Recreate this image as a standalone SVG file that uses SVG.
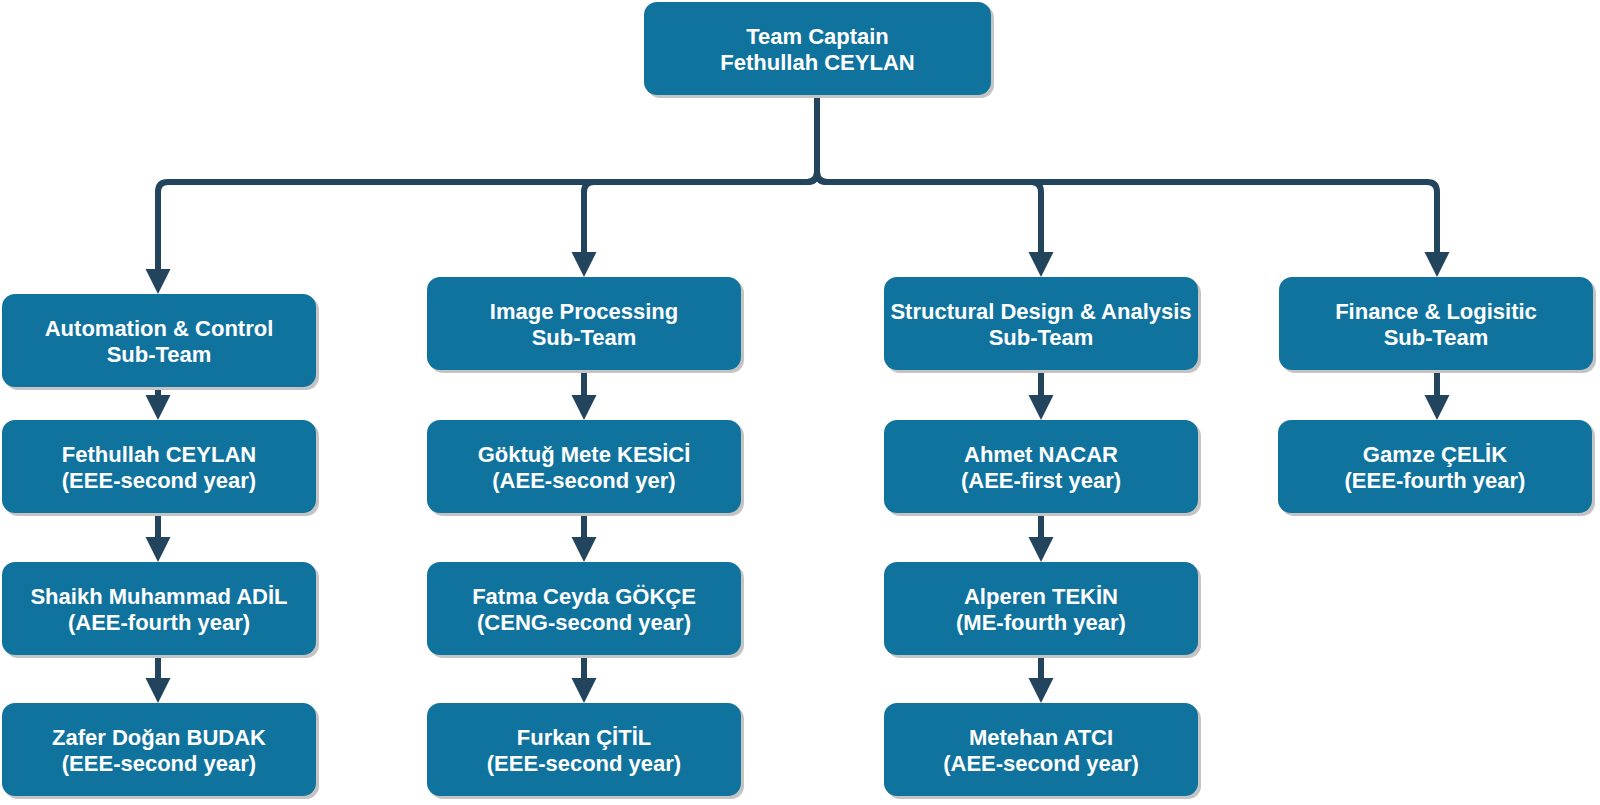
<svg xmlns="http://www.w3.org/2000/svg" width="1600" height="805" viewBox="0 0 1600 805">
<style>
.sh{fill:#c4c4c4}
.bx{fill:#10739e}
.t{font-family:"Liberation Sans",Arial,sans-serif;font-weight:bold;font-size:22px;fill:#ffffff;text-anchor:middle}
.e{fill:none;stroke:#23445d;stroke-width:6}
</style>
<defs>
<marker id="ah" markerUnits="userSpaceOnUse" markerWidth="26" markerHeight="26" refX="0" refY="12.5" orient="auto" overflow="visible">
<path d="M0,0 L25,12.5 L0,25 Z" fill="#23445d"/>
</marker>
</defs>
<rect width="1600" height="805" fill="#ffffff"/>
<g id="connectors">
<path class="e" marker-end="url(#ah)" d="M817,95 V172 Q817,182 807,182 H168 Q158,182 158,192 V269"/>
<path class="e" marker-end="url(#ah)" d="M817,95 V172 Q817,182 807,182 H594 Q584,182 584,192 V252"/>
<path class="e" marker-end="url(#ah)" d="M817,95 V172 Q817,182 827,182 H1031 Q1041,182 1041,192 V252"/>
<path class="e" marker-end="url(#ah)" d="M817,95 V172 Q817,182 827,182 H1427 Q1437,182 1437,192 V252"/>
<path class="e" marker-end="url(#ah)" d="M158,387 V395"/>
<path class="e" marker-end="url(#ah)" d="M158,513 V537"/>
<path class="e" marker-end="url(#ah)" d="M158,655 V678"/>
<path class="e" marker-end="url(#ah)" d="M584,370 V395"/>
<path class="e" marker-end="url(#ah)" d="M584,513 V537"/>
<path class="e" marker-end="url(#ah)" d="M584,655 V678"/>
<path class="e" marker-end="url(#ah)" d="M1041,370 V395"/>
<path class="e" marker-end="url(#ah)" d="M1041,513 V537"/>
<path class="e" marker-end="url(#ah)" d="M1041,655 V678"/>
<path class="e" marker-end="url(#ah)" d="M1437,370 V395"/>
</g>
<g id="captain"><rect class="sh" x="647" y="5" width="347" height="93" rx="13"/><rect class="bx" x="644" y="2" width="347" height="93" rx="13"/><text class="t" x="817.5" y="44">Team Captain</text><text class="t" x="817.5" y="70">Fethullah CEYLAN</text></g>

<g id="automation"><rect class="sh" x="5" y="297" width="314" height="93" rx="13"/><rect class="bx" x="2" y="294" width="314" height="93" rx="13"/><text class="t" x="159" y="336">Automation &amp; Control</text><text class="t" x="159" y="362">Sub-Team</text></g>
<g id="image"><rect class="sh" x="430" y="280" width="314" height="93" rx="13"/><rect class="bx" x="427" y="277" width="314" height="93" rx="13"/><text class="t" x="584" y="319">Image Processing</text><text class="t" x="584" y="345">Sub-Team</text></g>
<g id="structural"><rect class="sh" x="887" y="280" width="314" height="93" rx="13"/><rect class="bx" x="884" y="277" width="314" height="93" rx="13"/><text class="t" x="1041" y="319">Structural Design &amp; Analysis</text><text class="t" x="1041" y="345">Sub-Team</text></g>
<g id="finance"><rect class="sh" x="1282" y="280" width="314" height="93" rx="13"/><rect class="bx" x="1279" y="277" width="314" height="93" rx="13"/><text class="t" x="1436" y="319">Finance &amp; Logisitic</text><text class="t" x="1436" y="345">Sub-Team</text></g>

<g id="fethullah"><rect class="sh" x="5" y="423" width="314" height="93" rx="13"/><rect class="bx" x="2" y="420" width="314" height="93" rx="13"/><text class="t" x="159" y="462">Fethullah CEYLAN</text><text class="t" x="159" y="488">(EEE-second year)</text></g>
<g id="shaikh"><rect class="sh" x="5" y="565" width="314" height="93" rx="13"/><rect class="bx" x="2" y="562" width="314" height="93" rx="13"/><text class="t" x="159" y="604">Shaikh Muhammad ADİL</text><text class="t" x="159" y="630">(AEE-fourth year)</text></g>
<g id="zafer"><rect class="sh" x="5" y="706" width="314" height="93" rx="13"/><rect class="bx" x="2" y="703" width="314" height="93" rx="13"/><text class="t" x="159" y="745">Zafer Doğan BUDAK</text><text class="t" x="159" y="771">(EEE-second year)</text></g>

<g id="goktug"><rect class="sh" x="430" y="423" width="314" height="93" rx="13"/><rect class="bx" x="427" y="420" width="314" height="93" rx="13"/><text class="t" x="584" y="462">Göktuğ Mete KESİCİ</text><text class="t" x="584" y="488">(AEE-second yer)</text></g>
<g id="fatma"><rect class="sh" x="430" y="565" width="314" height="93" rx="13"/><rect class="bx" x="427" y="562" width="314" height="93" rx="13"/><text class="t" x="584" y="604">Fatma Ceyda GÖKÇE</text><text class="t" x="584" y="630">(CENG-second year)</text></g>
<g id="furkan"><rect class="sh" x="430" y="706" width="314" height="93" rx="13"/><rect class="bx" x="427" y="703" width="314" height="93" rx="13"/><text class="t" x="584" y="745">Furkan ÇİTİL</text><text class="t" x="584" y="771">(EEE-second year)</text></g>

<g id="ahmet"><rect class="sh" x="887" y="423" width="314" height="93" rx="13"/><rect class="bx" x="884" y="420" width="314" height="93" rx="13"/><text class="t" x="1041" y="462">Ahmet NACAR</text><text class="t" x="1041" y="488">(AEE-first year)</text></g>
<g id="alperen"><rect class="sh" x="887" y="565" width="314" height="93" rx="13"/><rect class="bx" x="884" y="562" width="314" height="93" rx="13"/><text class="t" x="1041" y="604">Alperen TEKİN</text><text class="t" x="1041" y="630">(ME-fourth year)</text></g>
<g id="metehan"><rect class="sh" x="887" y="706" width="314" height="93" rx="13"/><rect class="bx" x="884" y="703" width="314" height="93" rx="13"/><text class="t" x="1041" y="745">Metehan ATCI</text><text class="t" x="1041" y="771">(AEE-second year)</text></g>

<g id="gamze"><rect class="sh" x="1281" y="423" width="314" height="93" rx="13"/><rect class="bx" x="1278" y="420" width="314" height="93" rx="13"/><text class="t" x="1435" y="462">Gamze ÇELİK</text><text class="t" x="1435" y="488">(EEE-fourth year)</text></g>
</svg>
